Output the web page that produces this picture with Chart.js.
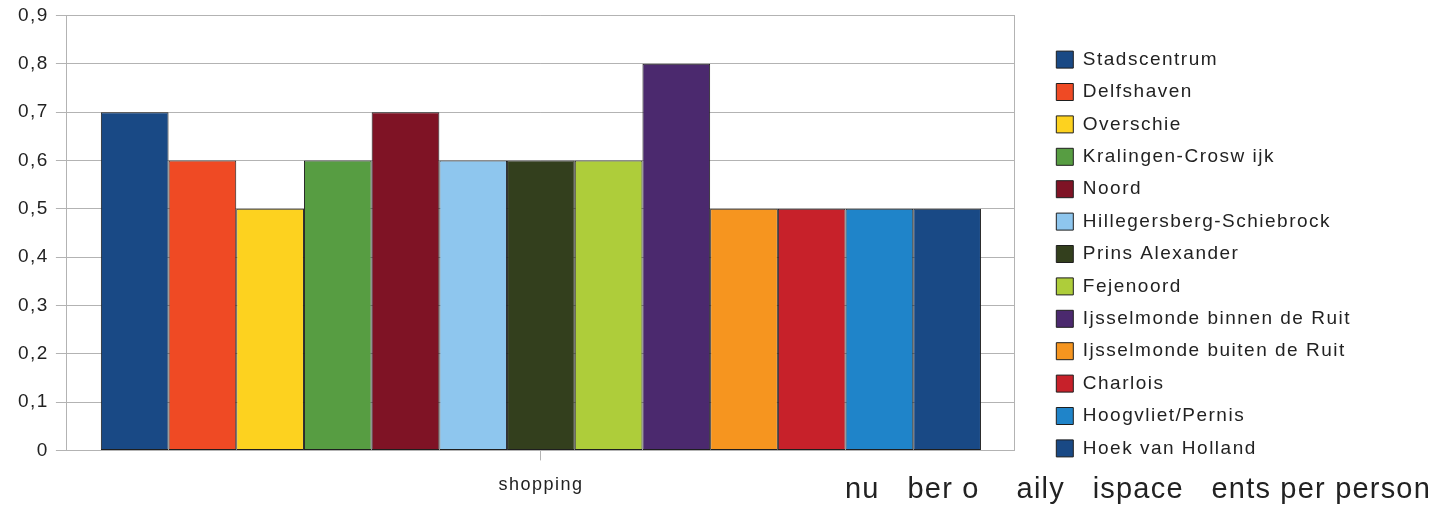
<!DOCTYPE html>
<html>
<head>
<meta charset="utf-8">
<script src="https://cdn.jsdelivr.net/npm/chart.js@4.4.1/dist/chart.umd.min.js"></script>
<style>
  html, body { margin: 0; padding: 0; background: #ffffff; }
  #wrap { width: 1443px; height: 508px; }
</style>
</head>
<body>
<div id="wrap"><canvas id="c" width="1443" height="508"></canvas></div>
<script>
const categories = ['shopping'];
const districts = [
  'Stadscentrum', 'Delfshaven', 'Overschie', 'Kralingen-Crosw ijk', 'Noord',
  'Hillegersberg-Schiebrock', 'Prins Alexander', 'Fejenoord',
  'Ijsselmonde binnen de Ruit', 'Ijsselmonde buiten de Ruit', 'Charlois',
  'Hoogvliet/Pernis', 'Hoek van Holland'
];
const shoppingValues = [0.7, 0.6, 0.5, 0.6, 0.7, 0.6, 0.6, 0.6, 0.8, 0.5, 0.5, 0.5, 0.5];
const districtColors = [
  '#194985', '#ef4a24', '#fdd21f', '#579d42', '#7f1325',
  '#8ec6ee', '#333f1d', '#aecd3a', '#4b296e', '#f6951f',
  '#c7212a', '#1f84c9', '#194985'
];
const yTickLabels = ['0', '0,1', '0,2', '0,3', '0,4', '0,5', '0,6', '0,7', '0,8', '0,9'];
const footerText = 'nu   ber o    aily   ispace   ents per person';

const FONT = "'Liberation Sans', Arial, sans-serif";
const TEXT = '#222222';
const GRID = '#b3b3b3';
const LS = '1.5px';

const datasets = districts.map((name, i) => ({
  label: name,
  data: [shoppingValues[i]],
  backgroundColor: districtColors[i],
  borderColor: '#1e1e1e',
  borderWidth: 1,
  borderSkipped: false,
  categoryPercentage: 0.9284,
  barPercentage: 1.0
}));

const spacingPlugin = {
  id: 'spacing',
  beforeUpdate(chart) { chart.ctx.letterSpacing = LS; },
  beforeLayout(chart) { chart.ctx.letterSpacing = LS; },
  beforeDraw(chart) { chart.ctx.letterSpacing = LS; },
  afterDraw(chart) {
    const ctx = chart.ctx;
    ctx.save();
    ctx.letterSpacing = '1.2px';
    ctx.font = "29px " + FONT;
    ctx.fillStyle = TEXT;
    ctx.textAlign = 'right';
    ctx.textBaseline = 'alphabetic';
    ctx.fillText(footerText, chart.width - 12, chart.height - 10);
    ctx.restore();
  }
};

new Chart(document.getElementById('c'), {
  type: 'bar',
  data: { labels: categories, datasets },
  options: {
    responsive: false,
    animation: false,
    devicePixelRatio: 1,
    layout: { padding: { left: 11, right: 82, top: -2, bottom: -2 } },
    plugins: {
      title: { display: false },
      tooltip: { enabled: false },
      legend: {
        position: 'right',
        align: 'center',
        maxWidth: 400,
        labels: {
          boxWidth: 17,
          boxHeight: 17,
          padding: 13.4,
          color: TEXT,
          font: { family: FONT, size: 19 }
        }
      }
    },
    scales: {
      x: {
        grid: { offset: false, drawOnChartArea: false, drawTicks: true, tickLength: 10, color: GRID },
        border: { display: true, color: GRID },
        ticks: { color: TEXT, font: { family: FONT, size: 18 }, padding: 14 }
      },
      y: {
        min: 0, max: 0.9,
        grid: { color: GRID, tickLength: 11 },
        border: { display: true, color: GRID },
        ticks: {
          stepSize: 0.1,
          color: TEXT,
          padding: 7,
          font: { family: FONT, size: 19, lineHeight: 0.9 },
          callback: (v, i) => yTickLabels[i]
        }
      },
      y2: {
        position: 'right',
        min: 0, max: 0.9,
        grid: { drawOnChartArea: false, drawTicks: false },
        border: { display: true, color: GRID },
        ticks: { display: false },
        afterFit: (s) => { s.width = 28; }
      }
    }
  },
  plugins: [spacingPlugin]
});
</script>
</body>
</html>
